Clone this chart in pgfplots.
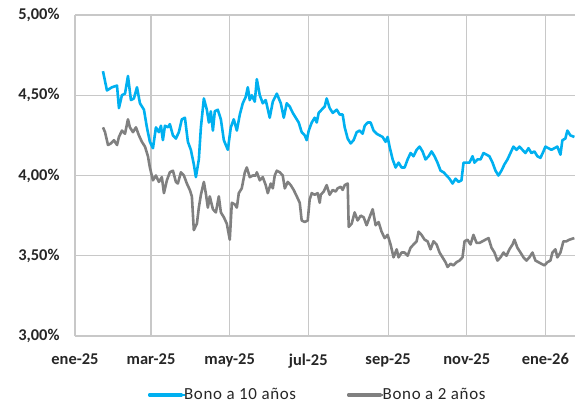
\documentclass[border=0pt]{standalone}
\usepackage{pgfplots}
\pgfplotsset{compat=1.18}
\usepackage{fontspec}
\setmainfont{Carlito}
\usetikzlibrary{calc}

\definecolor{diezanos}{HTML}{00B0F0}
\definecolor{dosanos}{HTML}{808080}
\definecolor{rejilla}{HTML}{C8C8C8}

% x = dias desde el 1 de enero de 2025, y = rendimiento en %
\pgfplotstableread{
x y
21.7 4.65
24.8 4.53
28.7 4.55
32.6 4.56
34.1 4.42
36.4 4.50
38.8 4.51
41.1 4.62
43.4 4.47
45.7 4.48
48.1 4.55
50.4 4.45
53.5 4.41
55.8 4.30
58.1 4.21
60.5 4.17
62.8 4.30
65.1 4.27
66.7 4.31
68.2 4.22
69.8 4.31
72.1 4.30
73.6 4.32
76.0 4.25
78.3 4.23
80.6 4.27
82.9 4.35
85.3 4.36
87.6 4.21
89.9 4.16
92.2 4.07
93.8 3.99
96.1 4.10
97.7 4.30
100.0 4.48
102.3 4.41
103.9 4.33
105.4 4.40
107.0 4.28
108.5 4.40
110.8 4.41
113.2 4.35
115.5 4.22
118.6 4.16
120.9 4.30
123.2 4.35
125.6 4.28
127.9 4.38
130.2 4.45
132.5 4.49
134.1 4.55
135.6 4.47
137.2 4.50
139.5 4.46
141.1 4.60
143.4 4.50
145.7 4.45
148.0 4.47
151.1 4.36
153.5 4.46
156.6 4.51
159.7 4.45
162.0 4.36
164.3 4.45
166.6 4.43
169.0 4.39
171.3 4.36
173.6 4.33
175.9 4.27
178.3 4.25
179.8 4.22
181.4 4.28
183.7 4.33
186.0 4.36
187.6 4.33
189.1 4.39
191.4 4.41
193.8 4.43
195.3 4.48
197.6 4.42
200.0 4.39
203.1 4.41
205.4 4.38
207.7 4.38
209.3 4.30
211.6 4.23
213.9 4.20
216.2 4.22
218.6 4.27
220.9 4.28
223.2 4.26
224.8 4.31
227.1 4.33
229.4 4.33
231.7 4.28
234.1 4.26
236.4 4.25
238.7 4.24
241.0 4.21
242.6 4.24
244.1 4.18
246.5 4.10
248.8 4.05
251.1 4.08
253.4 4.05
255.8 4.05
258.1 4.10
260.4 4.14
262.7 4.12
265.1 4.16
267.4 4.18
269.7 4.15
272.0 4.10
274.4 4.12
276.7 4.15
279.0 4.12
281.3 4.08
283.7 4.03
286.0 4.02
288.3 4.00
290.6 3.98
293.0 3.95
295.3 3.98
297.6 3.96
299.9 3.97
301.5 4.08
303.8 4.08
306.1 4.08
308.5 4.12
310.0 4.08
312.3 4.10
314.7 4.10
317.0 4.14
319.3 4.13
321.6 4.12
324.0 4.08
326.3 4.03
328.6 4.00
330.9 4.03
333.3 4.07
335.6 4.10
337.9 4.14
340.2 4.18
342.6 4.16
344.9 4.18
347.2 4.16
349.5 4.14
351.9 4.17
354.2 4.14
356.5 4.15
358.8 4.12
361.2 4.11
363.5 4.15
365.0 4.18
367.4 4.17
369.7 4.16
372.0 4.17
374.3 4.18
376.7 4.13
378.2 4.22
380.5 4.23
382.1 4.28
384.4 4.25
387.5 4.24
}\bonodiez

\pgfplotstableread{
x y
21.7 4.30
23.3 4.27
25.6 4.19
27.9 4.20
30.2 4.22
32.6 4.19
34.1 4.24
36.4 4.28
38.8 4.26
41.1 4.35
42.6 4.30
45.0 4.27
47.3 4.30
49.6 4.25
51.9 4.21
54.3 4.18
56.6 4.12
58.1 4.05
60.5 3.97
62.8 4.00
65.1 3.96
67.4 3.99
69.0 3.89
71.3 3.97
73.6 4.02
76.0 4.03
78.3 3.96
79.8 3.95
82.2 4.02
84.5 4.00
86.8 3.95
89.1 3.91
90.7 3.87
92.2 3.66
94.6 3.70
96.1 3.80
97.7 3.88
100.0 3.96
101.5 3.89
103.1 3.80
104.6 3.87
107.0 3.79
109.3 3.77
111.6 3.87
113.2 3.77
115.5 3.74
117.8 3.70
120.1 3.60
121.7 3.83
124.0 3.82
125.6 3.80
127.1 3.89
129.4 3.92
131.8 4.02
133.3 4.05
135.6 3.99
138.0 4.00
140.3 4.00
141.1 4.02
143.4 3.97
145.7 3.99
148.0 3.94
149.6 3.89
151.9 3.95
153.5 3.92
155.0 4.00
156.6 4.03
158.9 4.02
161.2 4.00
162.8 3.92
165.1 3.96
167.4 3.94
169.7 3.91
172.1 3.87
174.4 3.83
175.9 3.72
178.3 3.71
180.6 3.72
182.1 3.85
183.7 3.89
186.0 3.88
188.3 3.89
189.9 3.83
190.7 3.88
193.0 3.90
195.3 3.94
197.6 3.88
200.0 3.91
202.3 3.90
203.8 3.92
206.2 3.93
207.7 3.91
209.3 3.94
211.6 3.95
212.4 3.68
214.7 3.70
217.0 3.77
219.3 3.72
221.7 3.75
224.0 3.74
226.3 3.69
228.6 3.74
231.0 3.79
233.3 3.69
235.6 3.71
237.9 3.65
240.3 3.61
242.6 3.63
244.9 3.57
247.2 3.49
249.6 3.54
251.1 3.49
253.4 3.52
255.8 3.52
258.1 3.50
260.4 3.55
262.7 3.57
265.1 3.59
266.6 3.65
268.9 3.63
271.3 3.60
273.6 3.59
275.9 3.54
278.2 3.59
280.6 3.57
282.9 3.52
285.2 3.49
287.5 3.46
289.1 3.43
291.4 3.45
293.7 3.44
296.1 3.46
298.4 3.47
300.7 3.49
302.3 3.59
304.6 3.60
306.9 3.57
309.2 3.63
311.6 3.58
313.9 3.58
316.2 3.59
318.5 3.60
320.9 3.61
323.2 3.55
325.5 3.52
327.8 3.47
330.2 3.49
332.5 3.52
334.8 3.50
337.1 3.54
339.5 3.57
341.0 3.60
343.3 3.55
345.7 3.52
348.0 3.49
350.3 3.47
352.6 3.49
355.0 3.52
357.3 3.47
359.6 3.46
361.9 3.45
364.3 3.44
366.6 3.46
368.9 3.47
370.5 3.52
372.8 3.54
374.3 3.49
376.7 3.52
379.0 3.59
381.3 3.59
383.6 3.60
387.5 3.61
}\bonodos

\begin{document}
\begin{tikzpicture}
\begin{axis}[
    width=500bp, height=321bp, scale only axis,
    xmin=0, xmax=388,
    ymin=3, ymax=5,
    xtick={0,59,120,181,243,304,365},
    xticklabels={ene-25,mar-25,may-25,jul-25,sep-25,nov-25,ene-26},
    ytick={3,3.5,4,4.5,5},
    yticklabel={\pgfmathprintnumber{\tick}\%},
    /pgf/number format/.cd, fixed, fixed zerofill, precision=2, use comma, assume math mode=true,
    /pgfplots/.cd,
    axis x line*=bottom, axis y line*=left,
    axis line style={-, draw=rejilla, line width=1.2bp},
    grid=major,
    major grid style={draw=rejilla, line width=1.2bp},
    major tick length=0pt,
    tick label style={font=\bfseries\fontsize{16.5}{18}\selectfont, text=black!85},
    yticklabel style={xshift=-12bp},
    xticklabel style={yshift=-14bp},
    legend columns=2,
    legend style={at={(0.485,-0.184)}, anchor=center, draw=none, fill=none,
        font=\fontsize{17}{19}\selectfont\addfontfeature{LetterSpace=4}, text=black!85,
        /tikz/every even column/.append style={column sep=50bp},
        nodes={inner sep=1bp}},
    legend image code/.code={
        \draw[#1, overlay] (0bp,0bp) -- (35bp,0bp);
        \path (0bp,-1bp) rectangle (32bp,1bp);},
    clip=false,
]
\addplot[diezanos, line width=2.6bp, line join=round] table[x=x, y=y] {\bonodiez};
\addlegendentry{Bono a 10 años}
\addplot[dosanos, line width=2.6bp, line join=round] table[x=x, y=y] {\bonodos};
\addlegendentry{Bono a 2 años}
\coordinate (sw) at (rel axis cs:0,0);
\coordinate (ne) at (rel axis cs:1,1);
\end{axis}
\pgfresetboundingbox
\path[use as bounding box] ($(sw)+(-75bp,-67bp)$) rectangle ($(ne)+(4bp,15bp)$);
\end{tikzpicture}
\end{document}
